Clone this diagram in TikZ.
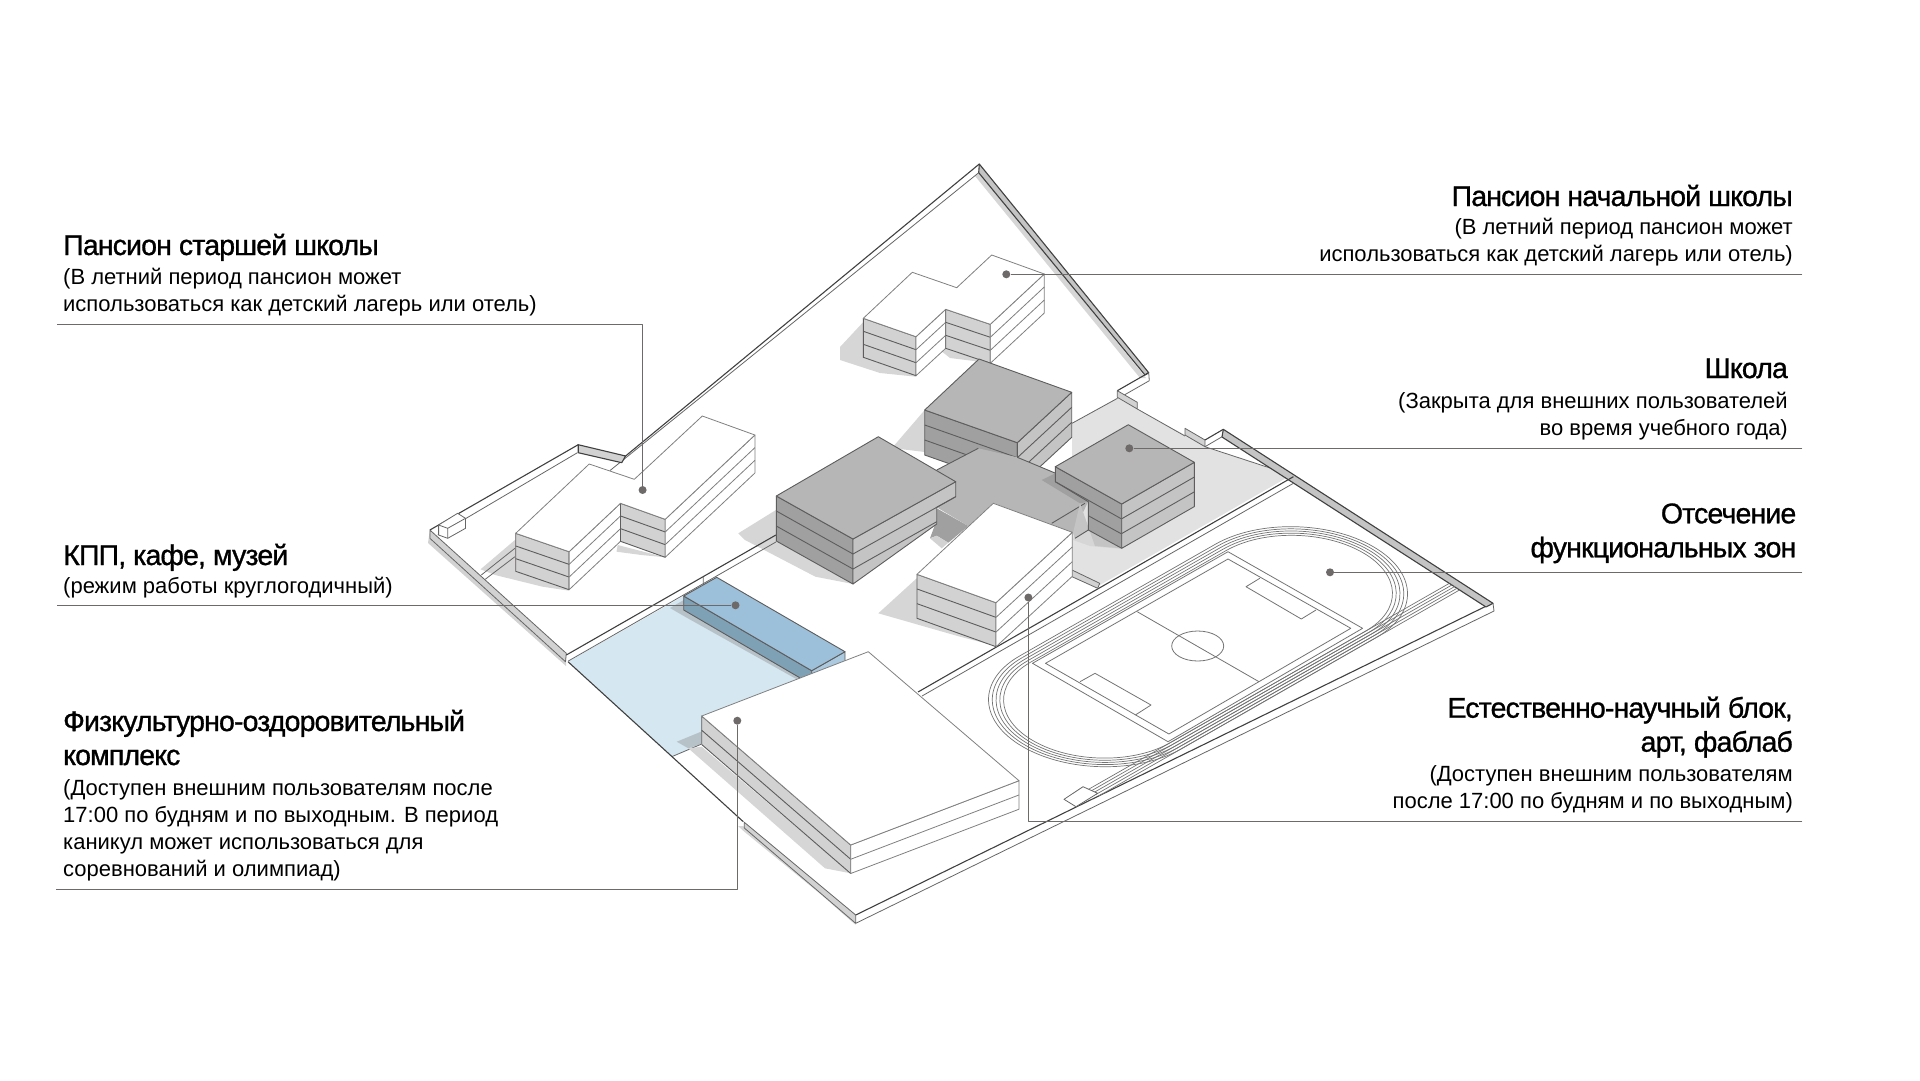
\documentclass[tikz,border=0pt]{standalone}
\usepackage{fontspec}
\setmainfont{Liberation Sans}
\newfontfamily\titlefont[LetterSpace=-3,FakeBold=1]{Liberation Sans}
\usetikzlibrary{calc, positioning}

\definecolor{linegray}{HTML}{5E5C5C}
\definecolor{leadergray}{HTML}{6E6A6A}
\definecolor{shadegray}{HTML}{D6D6D6}
\definecolor{wallgray}{HTML}{D2D2D2}
\definecolor{roofdark}{HTML}{B6B6B6}
\definecolor{sidedark}{HTML}{A0A0A0}
\definecolor{sidemid}{HTML}{C4C4C4}
\definecolor{yardgray}{HTML}{E2E2E2}
\definecolor{bluetop}{HTML}{9CC0D9}
\definecolor{blueside}{HTML}{7FA1B5}
\definecolor{blueplaza}{HTML}{D5E7F1}

% one wall of a block: style, first corner, second corner, height, floor lines
\newcommand{\floorface}[5]{%
    \draw[#1] (#2) -- (#3) -- ($(#3)+(0,#4)$) -- ($(#2)+(0,#4)$) -- cycle;
    \foreach \fr in {#5} {
        \draw[#1, fill=none] ($(#2)+(0,\fr*#4)$) -- ($(#3)+(0,\fr*#4)$);
    }
}

\begin{document}
\begin{tikzpicture}[
    x=1pt, y=-1pt,
    line join=round,
    % Styles
    sitewall/.style={draw=black!75, line width=1.1pt},
    sitethin/.style={draw=black!60, line width=0.8pt},
    blockedge/.style={draw=linegray, line width=0.9pt},
    whiteedge/.style={draw=black!50, line width=0.8pt, fill=white},
    grayface/.style={blockedge, fill=wallgray},
    darkface/.style={blockedge, fill=sidedark},
    midface/.style={blockedge, fill=sidemid},
    darkroof/.style={blockedge, fill=roofdark},
    lanes/.style={draw=black!55, line width=0.7pt},
    fieldline/.style={draw=black!55, line width=0.8pt},
    leader/.style={draw=leadergray, line width=1pt},
    leaderdot/.style={circle, fill=leadergray, inner sep=0pt, minimum size=8pt},
    titletext/.style={inner sep=0pt, font=\titlefont\fontsize{28.5}{34}\selectfont, align=left},
    titleright/.style={titletext, align=right},
    bodytext/.style={inner sep=0pt, font=\fontsize{22}{26.9}\selectfont, align=left},
    bodyright/.style={bodytext, align=right}
]
\useasboundingbox (0,0) rectangle (1920,1080);

% -------------------------
% GROUND
% -------------------------
\fill[yardgray] (1072,423) -- (1117,398) -- (1137,409) -- (1185,435) -- (1205,447) -- (1291.5,475) -- (1100,585) -- (1072,570) -- cycle;
\fill[blueplaza] (568.3,661.7) -- (683.7,596) -- (820,680) -- (701.7,744) -- (671.7,756.7) -- cycle;
\draw[sitethin] (1072,423.3) -- (1117.5,398.3);
\draw[sitethin] (1137.3,409) -- (1185,436);
\draw[sitethin] (1205,446.7) -- (1291.5,475);
\draw[sitethin] (671.7,756.7) -- (701,744.3);

% Shadows
\fill[shadegray] (514.9,540) -- (480.5,569.3) -- (495.1,575) -- (542.6,586.7) -- (569.1,590.7) -- cycle;
\fill[shadegray] (617.7,545) -- (665.2,557.3) -- (641.4,555) -- (616.5,551.7) -- cycle;
\fill[shadegray] (863.3,322) -- (840,347) -- (840,360) -- (880,373) -- (916,376.7) -- cycle;
\fill[shadegray] (945,345) -- (940,350) -- (950,358) -- (990,363) -- cycle;
\fill[shadegray] (924.7,410) -- (892,448) -- (924.7,452) -- cycle;
\fill[shadegray] (775.9,510) -- (738.3,533.3) -- (745,540) -- (815.4,576.7) -- (853,584) -- cycle;
\fill[shadegray] (916.7,578.3) -- (878.3,613.3) -- (960,636.7) -- (996,646) -- cycle;
\fill[shadegray] (825,868.3) -- (850.7,873.3) -- (701.7,746.7) -- (688.3,748.3) -- cycle;
\fill[black!45, opacity=.4] (701,731.7) -- (676.7,741.7) -- (688.3,748.3) -- (701,744) -- cycle;
\fill[black!45, opacity=.4] (683.7,600) -- (670,608) -- (683.7,616) -- (798,680) -- (812,684) -- cycle;
\fill[shadegray] (743,826) -- (855.7,925) -- (855.7,923) -- (744.3,831.7) -- (738,826) -- cycle;

% -------------------------
% SITE WALLS
% -------------------------
% North wedge
\fill[shadegray] (975,176) -- (1140,378) -- (1146,378) -- (979,172) -- cycle;
\draw[sitewall, fill=sidemid] (979.3,164) -- (1148.7,372.7) -- (1145,375) -- (978.7,172.7) -- cycle;
\draw[sitewall] (979.3,164) -- (625.6,456);
\draw[sitethin] (978.7,172.7) -- (609.8,470.7);
\draw[sitewall] (1148.7,372.7) -- (1117.3,390.7);
\draw[sitethin] (1149.3,380.7) -- (1119,398) (1148.7,372.7) -- (1149.3,380.7);
\draw[sitethin, fill=wallgray] (1117.3,390.7) -- (1137.3,402.3) -- (1137.3,409) -- (1117.3,397.3) -- cycle;

% North-west corner
\draw[sitewall, fill=wallgray] (578.2,444.7) -- (625.6,456) -- (621.7,462.7) -- (578.2,452.7) -- cycle;
\draw[sitewall] (578.2,444.7) -- (429.9,530);
\draw[sitethin] (577.4,452.7) -- (437.8,535);
\draw[sitethin, fill=white] (438.6,525) -- (457.6,513.3) -- (465.5,518.3) -- (465.5,528.3) -- (447.7,538.3) -- (438.6,535) -- cycle;
\draw[sitethin] (438.6,525) -- (447.7,528.3) -- (465.5,518.3) (447.7,528.3) -- (447.7,538.3);

% West wall
\fill[wallgray] (429.9,530) -- (566.3,653.3) -- (566,666) -- (428,543) -- cycle;
\draw[sitethin] (429.9,530) -- (566.3,653.3) -- (565.5,661.7) -- (429.9,538.3) -- cycle;
\draw[sitewall] (568,661.7) -- (743.3,821.7);
\draw[sitethin, fill=wallgray] (744.3,822.3) -- (855.7,915) -- (855.7,923.3) -- (744.3,828) -- cycle;

% Strip between the yards
\draw[sitewall] (566.3,655) -- (775.9,535);
\draw[sitethin] (568.3,661) -- (775.9,542);
\draw[sitethin] (481.3,575) -- (514.9,548.3);
\draw[sitethin] (485.2,579.3) -- (514.9,556.7);
\draw[sitethin] (703.3,577) -- (703.3,585) -- (710,582);

% East walls
\draw[sitethin, fill=wallgray] (1185,428.3) -- (1205,440) -- (1205,446.7) -- (1185,435) -- cycle;
\draw[sitewall] (1205,440) -- (1223.3,429.3);
\draw[sitethin] (1205,446.7) -- (1223.3,436);
\draw[sitewall, fill=sidemid] (1223.3,429.3) -- (1493,603.3) -- (1486,607) -- (1222,437) -- cycle;
\draw[sitewall] (855.7,915) -- (1485,606.7);
\draw[sitethin] (855.7,923.3) -- (1494,611) -- (1493,603.3);
\draw[sitewall] (1293.4,476.7) -- (918,692);
\draw[sitethin] (1293.4,483.3) -- (922,696);
\draw[sitethin, fill=wallgray] (1072,570) -- (1099.7,583.3) -- (1097.7,588.3) -- (1072,576.7) -- cycle;

% -------------------------
% STADIUM
% -------------------------
\coordinate (fieldO) at (1032.5,663.3);
\begin{scope}[x=1pt, y=1pt, cm={1.862,1.063,1.936,-1.12,(fieldO)}]
    \foreach \r in {36,37.4,38.8,40.2,41.6} {
        \pgfmathsetmacro{\lo}{35-\r}
        \pgfmathsetmacro{\hi}{35+\r}
        \draw[lanes] (0,\lo) -- (105,\lo) arc[start angle=-90, end angle=90, radius=\r];
        \draw[lanes] (105,\hi) -- (0,\hi) arc[start angle=90, end angle=270, radius=\r];
        \draw[lanes] (-44,\hi) -- (150,\hi);
    }
\end{scope}
\draw[fieldline] (1032.5,663.3) -- (1228,551.7) -- (1362.6,628.3) -- (1168,741.7) -- cycle;
\draw[fieldline] (1045.5,663.3) -- (1228,559) -- (1350.8,628.3) -- (1168.9,734) -- cycle;
\draw[fieldline] (1137.2,611.7) -- (1259,681.7);
\draw[fieldline] (1197.7,646) ellipse [x radius=26, y radius=15];
\draw[fieldline] (1259.8,578.3) -- (1246,586.7) -- (1301.3,619) -- (1316,610);
\draw[fieldline] (1080,681.7) -- (1095,673.3) -- (1151,705) -- (1135.3,715);
\draw[sitethin, fill=white] (1064,799.3) -- (1083,786.7) -- (1097.7,793.3) -- (1076,806.7) -- cycle;

% -------------------------
% SENIOR BOARDING HOUSE
% -------------------------
\floorface{grayface}{515.7,533.3}{569.1,551.7}{38}{0.333,0.667}
\floorface{whiteedge}{569.1,551.7}{620.5,503.3}{38}{0.333,0.667}
\floorface{grayface}{620.5,503.3}{665.2,519.3}{38}{0.333,0.667}
\floorface{whiteedge}{665.2,519.3}{754.9,435}{38}{0.333,0.667}
\draw[whiteedge] (515.7,533.3) -- (589.2,464) -- (634.3,479.3) -- (702.3,416) -- (754.9,435) -- (665.2,519.3) -- (620.5,503.3) -- (569.1,551.7) -- cycle;

% -------------------------
% PRIMARY BOARDING HOUSE
% -------------------------
\floorface{grayface}{863.3,318.3}{916,336.7}{39}{0.333,0.667}
\floorface{whiteedge}{916,336.7}{945.7,309.3}{39}{0.333,0.667}
\floorface{grayface}{945.7,309.3}{990.3,324.3}{39}{0.333,0.667}
\floorface{whiteedge}{990.3,324.3}{1044.3,274}{39}{0.333,0.667}
\draw[whiteedge] (863.3,318.3) -- (912.3,272.3) -- (956.7,287.7) -- (991.7,255) -- (1044.3,274) -- (990.3,324.3) -- (945.7,309.3) -- (916,336.7) -- cycle;

% -------------------------
% SCHOOL
% -------------------------
% Upper block
\floorface{darkface}{924.7,410}{1017.3,442.7}{45}{0.333,0.667}
\floorface{midface}{1017.3,442.7}{1071.7,392.3}{45}{0.333,0.667}
\draw[darkroof] (979,359) -- (1071.7,392.3) -- (1017.3,442.7) -- (924.7,410) -- cycle;

% Low connecting part
\fill[shadegray] (1085,503) -- (1075,535) -- (1088,530) -- (1121.7,549) -- (1090,546) -- (1073,540) -- cycle;
\fill[roofdark] (936.7,470) -- (978.3,448.3) -- (1017.3,457.3) -- (1055,473) -- (1088,502) -- (1073,533) -- (993.3,503) -- (968.3,526) -- (936.7,507.3) -- (955,497) -- cycle;
\fill[sidedark] (936.7,508.3) -- (968.3,526) -- (948.3,542.7) -- (936.7,535.7) -- (930,538.3) -- (936.7,520) -- cycle;
\fill[wallgray] (930,538.3) -- (936.7,535.7) -- (948.3,542.7) -- (941.7,548.3) -- cycle;
\draw[blockedge] (936.7,470) -- (978.3,448.3) (1017.3,457.3) -- (1055,473);
\draw[blockedge] (1085,503.3) -- (1051.7,523.3);

% East block
\fill[sidedark] (1041.7,480) -- (1055.3,473.3) -- (1088.3,501.7) -- (1080,503.3) -- cycle;
\fill[sidemid] (1080,503.3) -- (1073,533) -- (1075,538.3) -- (1088.3,530) -- (1121.7,548.3) -- (1095,546) -- cycle;
\draw[blockedge, fill=sidedark] (1055.3,466.7) -- (1121.7,504) -- (1121.7,548.3) -- (1088.3,530) -- (1088.3,501.7) -- (1055.3,481.7) -- cycle;
\draw[blockedge] (1055.3,481.7) -- (1121.7,519) (1088.3,515.7) -- (1121.7,534) (1088.3,530) -- (1075,538.3);
\floorface{midface}{1121.7,504}{1194.3,462.3}{44.3}{0.333,0.667}
\draw[darkroof] (1128.3,424.7) -- (1194.3,462.3) -- (1121.7,504) -- (1055.3,466.7) -- cycle;

% West block
\floorface{darkface}{776.3,496}{853,539}{45}{0.333,0.667}
\draw[midface] (853,539) -- (955.7,481.7) -- (955.7,496.7) -- (936.7,507.3) -- (936.7,524) -- (853,584) -- cycle;
\draw[blockedge] (853,554) -- (955.7,496.7) (853,569) -- (936.7,521.7);
\draw[darkroof] (878.3,436.7) -- (955.7,481.7) -- (853,539) -- (776.3,496) -- cycle;

% -------------------------
% SCIENCE AND ART BLOCK
% -------------------------
\floorface{grayface}{917,574.3}{996,602.7}{44}{0.333,0.667}
\floorface{whiteedge}{996,602.7}{1072.3,532.3}{44}{0.333,0.667}
\draw[whiteedge] (993.3,503.3) -- (1072.3,532.3) -- (996,602.7) -- (917,574.3) -- cycle;

% -------------------------
% GATE PAVILION AND SPORTS HALL
% -------------------------
\floorface{blockedge, fill=blueside}{683.7,596}{811.7,670.7}{14}{}
\floorface{blockedge, fill=bluetop!85!white}{811.7,670.7}{845,651.7}{14}{}
\draw[blockedge, fill=bluetop] (716.7,577.3) -- (845,651.7) -- (811.7,670.7) -- (683.7,596) -- cycle;

\floorface{grayface}{701.7,716}{850.7,845}{28.5}{0.5}
\floorface{whiteedge}{850.7,845}{1019,780.7}{28.5}{0.5}
\draw[whiteedge] (701.7,716) -- (868.3,651.7) -- (1019,780.7) -- (850.7,845) -- cycle;

% -------------------------
% LABELS (left)
% -------------------------
\node[titletext, anchor=base west] (seniortitle) at (63,255) {Пансион старшей школы};
\node[bodytext, anchor=base west] (seniorbody) at (63,311.7) {(В летний период пансион может\\использоваться как детский лагерь или отель)};

\node[titletext, anchor=base west] (gatetitle) at (63,565) {КПП, кафе, музей};
\node[bodytext, anchor=base west] (gatebody) at (63,593) {(режим работы круглогодичный)};

\node[titletext, anchor=base west] (gymtitle) at (63,765) {Физкультурно-оздоровительный\\комплекс};
\node[bodytext, anchor=base west] (gymbody) at (63,876) {(Доступен внешним пользователям после\\17:00 по будням и по выходным. В период\\каникул может использоваться для\\соревнований и олимпиад)};

% -------------------------
% LABELS (right)
% -------------------------
\node[titleright, anchor=base east] (primarytitle) at (1793,206) {Пансион начальной школы};
\node[bodyright, anchor=base east] (primarybody) at (1793,261.7) {(В летний период пансион может\\использоваться как детский лагерь или отель)};

\node[titleright, anchor=base east] (schooltitle) at (1788,378) {Школа};
\node[bodyright, anchor=base east] (schoolbody) at (1788,435) {(Закрыта для внешних пользователей\\во время учебного года)};

\node[titleright, anchor=base east] (zonetitle) at (1796.5,557.3) {Отсечение\\функциональных зон};

\node[titleright, anchor=base east] (labtitle) at (1793,751.7) {Естественно-научный блок,\\арт, фаблаб};
\node[bodyright, anchor=base east] (labbody) at (1793,808.3) {(Доступен внешним пользователям\\после 17:00 по будням и по выходным)};

% -------------------------
% LEADERS
% -------------------------
\node[leaderdot] (dotsenior) at (642.6,490) {};
\node[leaderdot] (dotgate) at (735.5,605.3) {};
\node[leaderdot] (dotgym) at (737.3,720.7) {};
\node[leaderdot] (dotprimary) at (1006.3,274.3) {};
\node[leaderdot] (dotschool) at (1129.3,448.3) {};
\node[leaderdot] (dotzone) at (1330,572.3) {};
\node[leaderdot] (dotlab) at (1028.4,597.5) {};

\coordinate (seniorend) at (57,324.3);
\coordinate (gateend) at (57,605.3);
\coordinate (gymend) at (56,889.3);
\coordinate (primaryend) at (1802.4,274.3);
\coordinate (schoolend) at (1802.4,448.3);
\coordinate (zoneend) at (1802.4,572.3);
\coordinate (labend) at (1802.4,821.3);

\draw[leader] (seniorend) -| (dotsenior);
\draw[leader] (gateend) -- (dotgate);
\draw[leader] (gymend) -| (dotgym);
\draw[leader] (primaryend) -- (dotprimary);
\draw[leader] (schoolend) -- (dotschool);
\draw[leader] (zoneend) -- (dotzone);
\draw[leader] (labend) -| (dotlab);

\end{tikzpicture}
\end{document}
